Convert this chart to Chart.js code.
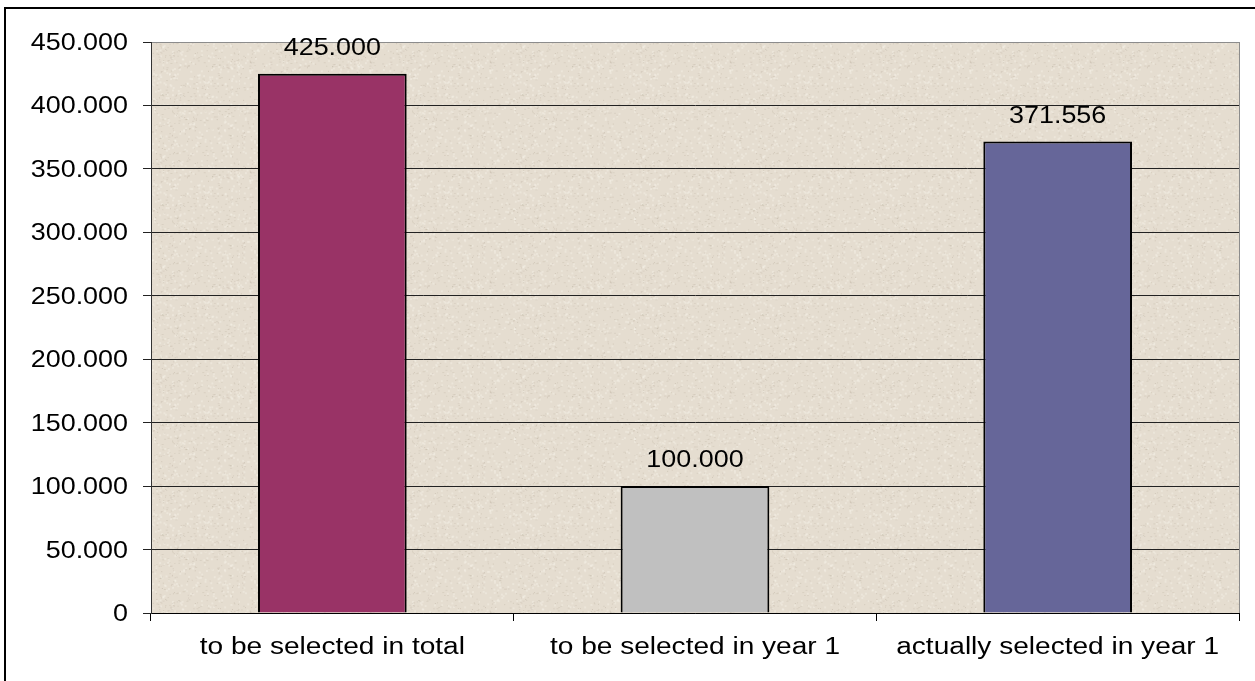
<!DOCTYPE html>
<html>
<head>
<meta charset="utf-8">
<script src="https://cdn.jsdelivr.net/npm/chart.js@4"></script>
<style>
  html, body { margin: 0; padding: 0; background: #fff; }
  #wrap { width: 1255px; height: 681px; position: relative; }
</style>
</head>
<body>
<div id="wrap"><canvas id="myChart" width="1255" height="681"></canvas></div>
<script>
const categories = [`to be selected in total`, `to be selected in year 1`, `actually selected in year 1`];
const selected = [425000, 100000, 371556];
const barColors = [`#993366`, `#C0C0C0`, `#666699`];
const yMax = 450000;
const yStep = 50000;

const FONT = `"Liberation Sans", Arial, sans-serif`;
const FONT_SIZE = 23;
const SX_NUM = 1.17; // text in this chart is drawn a little wide
const SX_CAT = 1.22;

const $ = document.querySelector.bind(document);

// dots as thousands separator: 425000 -> 425.000
const fmt = (v) => String(v).replace(/\B(?=(\d{3})+(?!\d))/g, `.`);

function wideText(ctx, text, x, y, align, sx) {
  ctx.save();
  ctx.translate(x, y);
  ctx.scale(sx, 1);
  ctx.textAlign = align;
  ctx.textBaseline = `alphabetic`;
  ctx.fillText(text, 0, 0);
  ctx.restore();
}

// stone-like fill for the plot area
function makeTexture() {
  const tile = document.createElement(`canvas`);
  tile.width = 120;
  tile.height = 110;
  const t = tile.getContext(`2d`);
  t.fillStyle = `#E5DDD0`;
  t.fillRect(0, 0, tile.width, tile.height);
  const hash = (n) => {
    const s = Math.sin(n * 12.9898) * 43758.5453;
    return s - Math.floor(s);
  };
  for (let i = 0; i < 900; i++) {
    const x = hash(i + 1) * tile.width;
    const y = hash(i + 1000) * tile.height;
    const k = hash(i + 2000);
    if (k < 0.55) {
      t.fillStyle = `rgba(150,135,115,${0.12 + k * 0.25})`;
      t.fillRect(x, y, 1 + (k < 0.2 ? 1 : 0), 1);
    } else {
      t.fillStyle = `rgba(250,246,238,0.35)`;
      t.fillRect(x, y, 2, 2);
    }
  }
  return t.createPattern(tile, `repeat`);
}

const plotBg = {
  id: `plotBg`,
  beforeDraw(chart) {
    const { ctx, chartArea: a } = chart;
    ctx.save();
    ctx.fillStyle = makeTexture();
    ctx.fillRect(a.left, a.top, a.right - a.left, a.bottom - a.top);
    ctx.restore();
  },
  beforeDatasetsDraw(chart) {
    const { ctx, chartArea: a } = chart;
    ctx.save();
    ctx.strokeStyle = `#8c8c8c`;
    ctx.lineWidth = 1;
    ctx.beginPath();
    ctx.moveTo(Math.round(a.right) + 0.5, a.top);
    ctx.lineTo(Math.round(a.right) + 0.5, a.bottom);
    ctx.stroke();
    ctx.restore();
  },
};

const texts = {
  id: `texts`,
  afterDraw(chart) {
    const ctx = chart.ctx;
    const y = chart.scales.y;
    const x = chart.scales.x;
    ctx.save();
    ctx.font = `${FONT_SIZE}px ${FONT}`;
    ctx.fillStyle = `#000`;
    y.ticks.forEach((tk) => {
      wideText(ctx, fmt(tk.value), 128, y.getPixelForValue(tk.value) + 8, `right`, SX_NUM);
    });
    categories.forEach((c, i) => {
      wideText(ctx, c, x.getPixelForValue(i), 654, `center`, SX_CAT);
    });
    chart.getDatasetMeta(0).data.forEach((bar, i) => {
      wideText(ctx, fmt(selected[i]), bar.x, bar.y - 19, `center`, SX_NUM);
    });
    // frame line along top and left
    ctx.fillStyle = `#000`;
    ctx.fillRect(4, 7, chart.width, 2);
    ctx.fillRect(4, 7, 2, chart.height);
    ctx.restore();
  },
};

const chart = new Chart($(`#myChart`).getContext(`2d`), {
  type: `bar`,
  data: {
    labels: categories,
    datasets: [
      {
        data: selected,
        backgroundColor: barColors,
        borderColor: `#000`,
        borderWidth: 2,
        barPercentage: 0.41,
        categoryPercentage: 1,
      },
    ],
  },
  options: {
    responsive: false,
    animation: false,
    layout: { padding: { left: 0, top: 42, right: 16, bottom: 0 } },
    plugins: { legend: { display: false }, tooltip: { enabled: false } },
    scales: {
      x: {
        grid: {
          display: true,
          offset: true,
          drawOnChartArea: false,
          drawTicks: true,
          tickLength: 8,
          color: `#000`,
        },
        border: { display: true, color: `#000`, width: 1 },
        ticks: { display: false },
        afterFit: (s) => { s.height = 68; },
      },
      y: {
        min: 0,
        max: yMax,
        grid: {
          drawTicks: true,
          tickLength: 8,
          color: (c) => (c.tick && c.tick.value === yMax ? `#8c8c8c` : `#222`),
          tickColor: `#222`,
        },
        border: { display: true, color: `#333`, width: 1 },
        ticks: { display: false, stepSize: yStep },
        afterFit: (s) => { s.width = 151; },
      },
    },
  },
  plugins: [plotBg, texts],
});
</script>
</body>
</html>
